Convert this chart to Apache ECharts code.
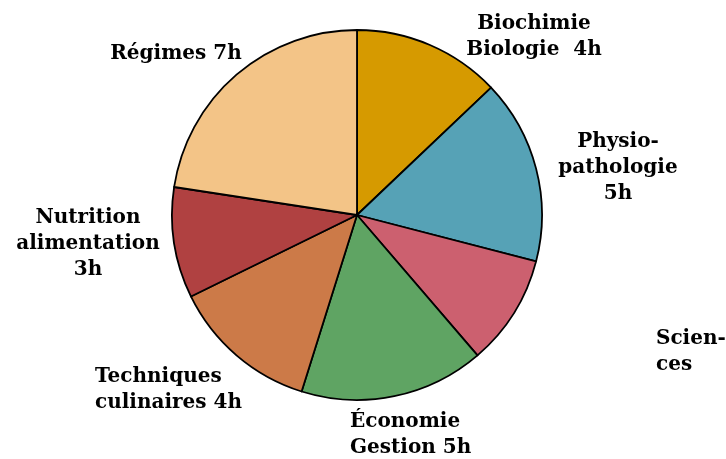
<!DOCTYPE html>
<html>
<head>
<meta charset="utf-8">
<script src="https://cdn.jsdelivr.net/npm/echarts@6/dist/echarts.min.js"></script>
<style>
  html, body { margin: 0; padding: 0; background: #fff; }
  #chart { width: 726px; height: 459px; }
</style>
</head>
<body>
<div id="chart"></div>
<script>
// heures par matière (sens horaire depuis midi)
var labels = ['Biochimie\nBiologie  4h', 'Physio-\npathologie\n5h', 'Scien-\nces', 'Économie\nGestion 5h', 'Techniques\nculinaires 4h', 'Nutrition\nalimentation\n3h', 'Régimes 7h'];
var hours = [4, 5, 3, 5, 4, 3, 7];
var colors = ['#D69A00', '#56A2B6', '#CC606F', '#5FA463', '#CC7A48', '#B04141', '#F3C487'];

// where each label sits: [x, y, align]
var labelPos = [
    [534, 37, 'center'],
    [618, 168, 'center'],
    [656, 352, 'left'],
    [350, 435, 'left'],
    [95, 390, 'left'],
    [88, 244, 'center'],
    [176, 54, 'center']
];

var chart = echarts.init(document.getElementById('chart'));

var option = {
    animation: false,
    series: [
        {
            type: 'pie',
            center: [357, 215],
            radius: 185,
            startAngle: 90,
            clockwise: true,
            data: hours.map(function (h, i) {
                return { value: h, name: labels[i], itemStyle: { color: colors[i] } };
            }),
            itemStyle: {
                borderColor: '#000',
                borderWidth: 1.8
            },
            label: {
                show: true,
                position: 'outside',
                formatter: '{b}',
                fontFamily: 'DejaVu Serif',
                fontWeight: 'bold',
                fontSize: 20,
                lineHeight: 26,
                color: '#000',
                overflow: 'none'
            },
            labelLine: { show: false },
            labelLayout: function (params) {
                var p = labelPos[params.dataIndex];
                return { x: p[0], y: p[1], align: p[2], verticalAlign: 'middle' };
            },
            emphasis: { disabled: true }
        }
    ]
};

chart.setOption(option);
</script>
</body>
</html>
